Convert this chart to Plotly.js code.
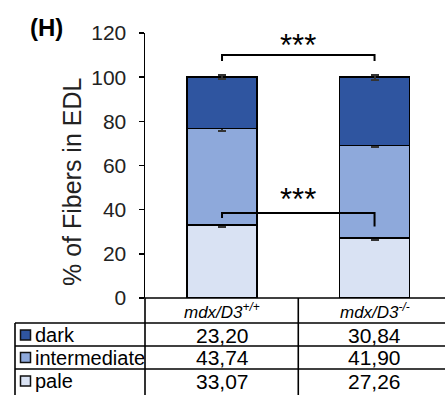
<!DOCTYPE html>
<html><head><meta charset="utf-8">
<script src="https://cdn.plot.ly/plotly-3.0.1.min.js"></script>
<style>html,body{margin:0;padding:0;overflow:hidden;background:#fff}</style>
</head><body><div id="chart" style="width:445px;height:395px"></div>
<script>
const categories = ['mdx/D3<sup>+/+</sup>', 'mdx/D3<sup>-/-</sup>'];
const seriesNames = ['pale', 'intermediate', 'dark'];
const paleVals = [33.07, 27.26];
const interVals = [43.74, 41.90];
const darkVals = [23.20, 30.84];
const paleErr = [0.7, 0.8];
const interErr = [1.0, 0.6];
const darkErr = [0.8, 1.2];
const yTicks = [0, 20, 40, 60, 80, 100, 120];
const colors = {pale: '#D9E2F3', intermediate: '#8EA9DB', dark: '#2F55A0'};

const xIdx = categories.map((c, i) => i);
const seriesVals = {pale: paleVals, intermediate: interVals, dark: darkVals};
const seriesErr = {pale: paleErr, intermediate: interErr, dark: darkErr};
const FONT = 'Arial, Liberation Sans, sans-serif';

const traces = seriesNames.map(n => ({
  type: 'bar', x: xIdx, y: seriesVals[n], name: n, width: 0.46,
  marker: {color: colors[n], line: {color: '#000', width: 1.5}},
  error_y: {type: 'data', array: seriesErr[n], visible: true, color: '#333', thickness: 2, width: 4},
  hoverinfo: 'skip'
}));

// pixel helpers for table (plot area: x 145..445, y 33..298)
const px = p => (p - 145) / 300;
const py = p => (298 - p) / 265;
const line = {color: '#000', width: 1.6};
const shapes = [];
shapes.push({type: 'line', xref: 'paper', yref: 'paper', x0: 0, x1: 1, y0: py(298), y1: py(298), line});
[323, 346, 369].forEach(y => shapes.push({type: 'line', xref: 'paper', yref: 'paper', x0: px(15), x1: 1, y0: py(y), y1: py(y), line}));
shapes.push({type: 'line', xref: 'paper', yref: 'paper', x0: px(15), x1: px(15), y0: py(323), y1: py(400), line});
shapes.push({type: 'line', xref: 'paper', yref: 'paper', x0: 0, x1: 0, y0: py(298), y1: py(400), line});
shapes.push({type: 'line', xref: 'x', yref: 'paper', x0: 0.5, x1: 0.5, y0: py(298), y1: py(400), line});
// significance brackets
const br = {color: '#000', width: 2};
shapes.push({type: 'path', xref: 'x', yref: 'y', path: 'M 0 107.3 L 0 110 L 1 110 L 1 107.3', line: br});
shapes.push({type: 'path', xref: 'x', yref: 'y', path: 'M 0 36.2 L 0 38.5 L 1 38.5 L 1 32.4', line: br});

const annotations = [];
const rowCenters = {dark: 335, intermediate: 357.5, pale: 381};
const rowOrder = ['dark', 'intermediate', 'pale'];
rowOrder.forEach(n => {
  const yc = rowCenters[n];
  shapes.push({type: 'rect', xref: 'paper', yref: 'paper', x0: px(20.5), x1: px(30.5), y0: py(yc - 5), y1: py(yc + 5),
    fillcolor: colors[n], line: {color: '#111', width: 1.5}});
  annotations.push({xref: 'paper', yref: 'paper', x: px(33), y: py(yc), xanchor: 'left', yanchor: 'middle',
    text: n, showarrow: false, font: {size: 20, color: '#000', family: FONT}});
  seriesVals[n].forEach((v, i) => annotations.push({xref: 'x', yref: 'paper', x: i, y: py(yc), xanchor: 'center', yanchor: 'middle',
    text: v.toFixed(2).replace('.', ','), showarrow: false, font: {size: 21, color: '#000', family: FONT}}));
});
categories.forEach((c, i) => annotations.push({xref: 'x', yref: 'paper', x: i, y: py(311), xanchor: 'center', yanchor: 'middle',
  text: '<i>' + c + '</i>', showarrow: false, font: {size: 17, color: '#000', family: FONT}}));
// stars
annotations.push({xref: 'x', yref: 'paper', x: 0.5, y: py(45), xanchor: 'center', yanchor: 'middle', text: '***', showarrow: false, font: {size: 31, color: '#000', family: FONT}});
annotations.push({xref: 'x', yref: 'paper', x: 0.5, y: py(199), xanchor: 'center', yanchor: 'middle', text: '***', showarrow: false, font: {size: 31, color: '#000', family: FONT}});
// y title and panel label
annotations.push({xref: 'paper', yref: 'paper', x: px(72), y: py(182), xanchor: 'center', yanchor: 'middle', textangle: -90,
  text: '% of Fibers in EDL', showarrow: false, font: {size: 25, color: '#222', family: FONT}});
annotations.push({xref: 'paper', yref: 'paper', x: px(46), y: py(27), xanchor: 'center', yanchor: 'middle',
  text: '<b>(H)</b>', showarrow: false, font: {size: 24, color: '#000', family: FONT}});

const layout = {
  width: 445, height: 395,
  margin: {l: 145, r: 0, t: 33, b: 97},
  paper_bgcolor: '#fff', plot_bgcolor: '#fff',
  barmode: 'stack', showlegend: false,
  xaxis: {range: [-0.505, 1.462], showticklabels: false, ticks: '', showgrid: false, zeroline: false, showline: false, fixedrange: true},
  yaxis: {range: [0, 120], tickvals: yTicks, ticktext: yTicks.map(String), ticks: 'outside', ticklen: 5, tickwidth: 1.5, tickcolor: '#000',
    showline: true, linecolor: '#000', linewidth: 1.5, showgrid: false, zeroline: false, ticklabelstandoff: 8,
    tickfont: {size: 21, color: '#222', family: FONT}},
  shapes, annotations
};
Plotly.newPlot('chart', traces, layout, {displayModeBar: false, staticPlot: true});
</script></body></html>
